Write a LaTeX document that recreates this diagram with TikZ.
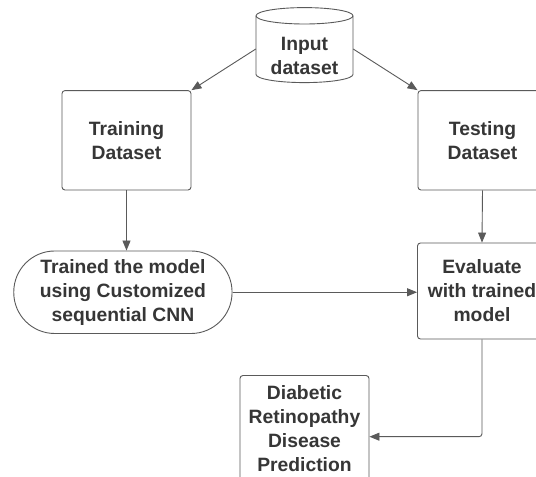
\documentclass[tikz,border=0pt]{standalone}
\usepackage{fontspec}
\setmainfont{Liberation Sans}
\usetikzlibrary{arrows.meta}
\definecolor{txt}{HTML}{363636}
\definecolor{ln}{HTML}{5A5A5A}
\begin{document}
\begin{tikzpicture}[x=1pt,y=1pt,
  every node/.style={font=\fontsize{19.3}{24}\selectfont\bfseries, text=txt, align=center},
  boxx/.style={draw=ln, line width=0.9pt, rounded corners=3pt, fill=white, minimum width=129pt, inner sep=0pt},
  conn/.style={draw=ln, line width=0.9pt, -{Triangle[length=10pt,width=8pt]}}]
\useasboundingbox (0,0) rectangle (536,477);
\fill[white] (0,0) rectangle (536,477);
% input cylinder
\node[minimum width=97pt, minimum height=83pt, inner sep=0pt] (inp) at (304.5,428) {};
\draw[draw=ln, line width=0.9pt, fill=white]
  (256,461.2) -- (256,402.6) arc[start angle=180, end angle=360, x radius=48.5, y radius=8.2]
  -- (353,461.2) arc[start angle=0, end angle=180, x radius=48.5, y radius=8.2];
\draw[draw=ln, line width=0.9pt] (256,461.2) arc[start angle=180, end angle=360, x radius=48.5, y radius=8.2];
\node at (304.5,421.4) {Input\\dataset};
% boxes
\node[boxx, minimum height=99.4pt] (train) at (126.5,336.7) {Training\\Dataset};
\node[boxx, minimum height=99.4pt] (test) at (482.5,336.7) {Testing\\Dataset};
\node[draw=ln, line width=0.9pt, fill=white, rounded corners=41pt, minimum width=218.3pt, minimum height=82.5pt, inner sep=0pt] (cnn) at (122.9,184.75) {Trained the model\\using Customized\\sequential CNN};
\node[boxx, minimum height=96pt] (eval) at (482,186) {Evaluate\\with trained\\model};
\node[boxx, minimum height=106pt] (pred) at (304.5,48.5) {Diabetic\\Retinopathy\\Disease\\Prediction};
\coordinate (predin) at ([yshift=-8.2pt]pred.east);
% connectors
\draw[conn] (inp.west) -- (train.north east);
\draw[conn] (inp.east) -- (test.north west);
\draw[conn] (train.south) -- (cnn.north -| train.south);
\draw[conn] (test.south) -- (eval.north);
\draw[conn] (cnn.east) -- (cnn.east -| eval.west);
\draw[conn, rounded corners=3pt] (eval.south) |- (predin);
\end{tikzpicture}
\end{document}
